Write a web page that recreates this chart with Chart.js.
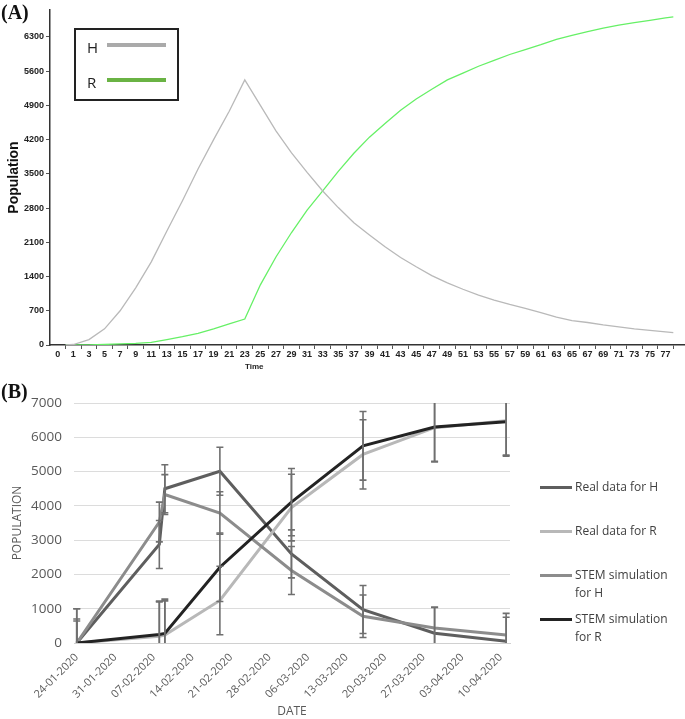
<!DOCTYPE html>
<html lang="en">
<head>
<meta charset="UTF-8">
<title>Population: model (A) and data vs STEM simulation (B)</title>
<script src="https://cdn.jsdelivr.net/npm/chart.js@4.4.0/dist/chart.umd.min.js"></script>
<style>
  body { margin: 0; padding: 0; background: #ffffff; }
  #wrap { position: relative; width: 685px; height: 719px; overflow: hidden; font-family: 'Open Sans', sans-serif; }
  .panel { position: absolute; left: 0; }
  .tag { position: absolute; left: 1px; font: bold 20px 'Liberation Serif', 'Times New Roman', serif; color: #111; }
  #legA { position: absolute; left: 74px; top: 28px; width: 101px; height: 69px; border: 2px solid #222; }
  #legA .row { position: absolute; left: 11px; font-size: 15px; color: #222; line-height: 15px; }
  #legA .bar { position: absolute; left: 31px; width: 59px; height: 4px; }
  #timeLbl { position: absolute; left: 245px; top: 362px; font: bold 8px Arial, sans-serif; color: #222; }
  #legB { position: absolute; left: 540px; top: 0; font-size: 12px; color: #404040; }
  #legB .item { position: absolute; left: 0; white-space: nowrap; line-height: 17.5px; }
  #legB .mk { position: absolute; left: 0; width: 32px; height: 3px; }
  #legB .txt { position: absolute; left: 35px; }
</style>
</head>
<body>
<div id="wrap">
  <div class="panel" style="top:0"><canvas id="chartA" width="685" height="372"></canvas></div>
  <div class="panel" style="top:370px"><canvas id="chartB" width="685" height="349"></canvas></div>
  <div class="tag" style="top:1px">(A)</div>
  <div class="tag" style="top:380px">(B)</div>
  <div id="legA">
    <div class="row" style="top:10px">H</div>
    <div class="bar" style="top:13px;background:#aaaaaa"></div>
    <div class="row" style="top:45px">R</div>
    <div class="bar" style="top:48px;background:#6ab344"></div>
  </div>
  <div id="timeLbl">Time</div>
  <div id="legB"></div>
</div>

<script>
  // ---- panel A: model output over time ----
  var timeA = [0, 1, 3, 5, 7, 9, 11, 13, 15, 17, 19, 21, 23, 25, 27, 29, 31, 33, 35, 37, 39,
               41, 43, 45, 47, 49, 51, 53, 55, 57, 59, 61, 63, 65, 67, 69, 71, 73, 75, 77, 78];
  var hValues = [0, 10, 110, 330, 700, 1170, 1700, 2330, 2950, 3600, 4200, 4780, 5420, 4900, 4380, 3930, 3530, 3150, 2810, 2500, 2250,
                 2010, 1790, 1600, 1420, 1270, 1140, 1020, 920, 830, 750, 660, 570, 500, 460, 410, 370, 330, 300, 270, 255];
  var rValues = [0, 0, 0, 10, 25, 35, 55, 110, 170, 240, 330, 430, 530, 1230, 1800, 2300, 2760, 3150, 3550, 3920, 4250,
                 4530, 4800, 5030, 5230, 5420, 5560, 5700, 5820, 5940, 6040, 6140, 6250, 6330, 6410, 6480, 6540, 6590, 6640, 6690, 6710];
  var popTicksA = [0, 700, 1400, 2100, 2800, 3500, 4200, 4900, 5600, 6300];

  // ---- panel B: real data vs STEM simulation ----
  var dateDays = [0, 7, 14, 21, 28, 35, 42, 49, 56, 63, 70, 77];
  var dateLabels = ['24-01-2020', '31-01-2020', '07-02-2020', '14-02-2020', '21-02-2020', '28-02-2020',
                    '06-03-2020', '13-03-2020', '20-03-2020', '27-03-2020', '03-04-2020', '10-04-2020'];
  var obsDays = [0, 15, 16, 26, 39, 52, 65, 78];
  var realH = [0, 2875, 4500, 5010, 2600, 975, 283, 49];
  var realR = [0, 200, 230, 1240, 3950, 5500, 6280, 6480];
  var stemH = [0, 3530, 4330, 3790, 2115, 780, 440, 234];
  var stemR = [0, 250, 280, 2210, 4110, 5750, 6300, 6450];
  var errRealH = [700, 700, 700, 700, 700, 700, 760, 700];
  var errRealR = [1000, 1000, 1000, 1000, 970, 1010, 1000, 1000];
  var errStemH = [640, 580, 580, 620, 700, 620, 600, 630];
  var errStemR = [1000, 970, 1000, 1000, 980, 1000, 1000, 1000];

  function pts(xs, ys) {
    return xs.map(function (x, i) { return { x: x, y: ys[i] }; });
  }

  // ---------- chart A ----------
  var tickPosA = [-1];
  for (var t = 0; t <= 78; t++) tickPosA.push(t);

  var chartA = new Chart(document.getElementById('chartA').getContext('2d'), {
    type: 'line',
    data: {
      datasets: [
        { label: 'H', data: pts(timeA, hValues), borderColor: '#b9b9b9', borderWidth: 1.3, pointRadius: 0, tension: 0 },
        { label: 'R', data: pts(timeA, rValues), borderColor: '#66f066', borderWidth: 1.3, pointRadius: 0, tension: 0 }
      ]
    },
    options: {
      responsive: false,
      animation: false,
      layout: { padding: { top: 10, right: 0, left: 0, bottom: 0 } },
      plugins: { legend: { display: false }, tooltip: { enabled: false } },
      scales: {
        x: {
          type: 'linear', min: -2, max: 79.5,
          afterBuildTicks: function (axis) { axis.ticks = tickPosA.map(function (v) { return { value: v }; }); },
          afterFit: function (scale) { scale.height = 27; },
          border: { color: '#333333', width: 1.5 },
          grid: {
            drawOnChartArea: false, tickLength: 4,
            tickColor: function (ctx) { return (ctx.tick && ctx.tick.value >= 0 && ctx.tick.value % 2 === 0) ? '#555555' : 'rgba(0,0,0,0)'; }
          },
          ticks: {
            autoSkip: false, maxRotation: 0, minRotation: 0, padding: 0,
            color: '#222222', font: { family: 'Arial', size: 9, weight: 'bold' },
            callback: function (v) { if (v === -1) return '0'; return (v % 2 === 1) ? String(v) : ''; }
          }
        },
        y: {
          min: 0, max: 6850,
          afterBuildTicks: function (axis) { axis.ticks = popTicksA.map(function (v) { return { value: v }; }); },
          afterFit: function (scale) { scale.width = 50; },
          border: { color: '#333333', width: 1.5 },
          grid: { drawOnChartArea: false, tickLength: 4, tickColor: '#555555' },
          ticks: { padding: 2, color: '#222222', font: { family: 'Arial', size: 9, weight: 'bold' },
                   callback: function (v) { return String(v); } },
          title: { display: true, text: 'Population', color: '#111111', padding: { top: 6, bottom: 0 },
                   font: { family: 'Arial', size: 14, weight: 'bold' } }
        }
      }
    }
  });

  // ---------- chart B ----------
  var errorBars = {
    id: 'errorBars',
    afterDatasetsDraw: function (chart) {
      var ctx = chart.ctx, area = chart.chartArea;
      var xs = chart.scales.x, ys = chart.scales.y;
      ctx.save();
      ctx.beginPath();
      ctx.rect(area.left - 6, area.top, area.right - area.left + 12, area.bottom - area.top);
      ctx.clip();
      ctx.strokeStyle = '#6f6f6f';
      ctx.lineWidth = 1.6;
      chart.data.datasets.forEach(function (ds) {
        if (!ds.errors) return;
        ds.data.forEach(function (p, i) {
          var e = ds.errors[i];
          var px = xs.getPixelForValue(p.x);
          var hi = ys.getPixelForValue(p.y + e);
          var lo = ys.getPixelForValue(p.y - e);
          ctx.beginPath();
          ctx.moveTo(px, hi); ctx.lineTo(px, lo);
          ctx.moveTo(px - 3.5, hi); ctx.lineTo(px + 3.5, hi);
          ctx.moveTo(px - 3.5, lo); ctx.lineTo(px + 3.5, lo);
          ctx.stroke();
        });
      });
      ctx.restore();
    }
  };

  var seriesB = [
    { label: 'Real data for H', data: pts(obsDays, realH), errors: errRealH, color: '#5e5e5e', order: 4 },
    { label: 'Real data for R', data: pts(obsDays, realR), errors: errRealR, color: '#b8b8b8', order: 3 },
    { label: 'STEM simulation for H', data: pts(obsDays, stemH), errors: errStemH, color: '#8c8c8c', order: 2 },
    { label: 'STEM simulation for R', data: pts(obsDays, stemR), errors: errStemR, color: '#232323', order: 1 }
  ];

  var chartB = new Chart(document.getElementById('chartB').getContext('2d'), {
    type: 'line',
    data: {
      datasets: seriesB.map(function (s) {
        return { label: s.label, data: s.data, errors: s.errors, order: s.order,
                 borderColor: s.color, borderWidth: 3, pointRadius: 0, tension: 0 };
      })
    },
    options: {
      responsive: false,
      animation: false,
      layout: { padding: { top: 33, right: 175, left: 0, bottom: 0 } },
      plugins: { legend: { display: false }, tooltip: { enabled: false } },
      scales: {
        x: {
          type: 'linear', min: -0.5, max: 78.7,
          afterBuildTicks: function (axis) { axis.ticks = dateDays.map(function (v) { return { value: v }; }); },
          afterFit: function (scale) { scale.height = 76; },
          border: { color: '#d0d0d0', width: 1 },
          grid: { drawOnChartArea: false, drawTicks: false },
          ticks: {
            autoSkip: false, maxRotation: 45, minRotation: 45, padding: 8,
            color: '#595959', font: { family: 'Open Sans', size: 11 },
            callback: function (v) { var k = dateDays.indexOf(v); return k >= 0 ? dateLabels[k] : ''; }
          },
          title: { display: true, text: 'DATE', color: '#595959', padding: { top: 0, bottom: 0 },
                   font: { family: 'Open Sans', size: 12 } }
        },
        y: {
          min: 0, max: 7000,
          afterFit: function (scale) { scale.width = 74; },
          border: { display: false },
          grid: { color: '#dcdcdc', lineWidth: 1, drawTicks: false },
          ticks: { stepSize: 1000, padding: 12, color: '#595959', font: { family: 'Open Sans', size: 13.5 },
                   callback: function (v) { return String(v); } },
          title: { display: true, text: 'POPULATION', color: '#595959', padding: { top: 10, bottom: 0 },
                   font: { family: 'Open Sans', size: 12 } }
        }
      }
    },
    plugins: [errorBars]
  });

  // legend for B, beside the plot
  var legRows = [
    { top: 478, lines: ['Real data for H'] },
    { top: 522, lines: ['Real data for R'] },
    { top: 566, lines: ['STEM simulation', 'for H'] },
    { top: 610, lines: ['STEM simulation', 'for R'] }
  ];
  var legB = document.getElementById('legB');
  legRows.forEach(function (r, i) {
    var item = document.createElement('div');
    item.className = 'item';
    item.style.top = r.top + 'px';
    var mk = document.createElement('div');
    mk.className = 'mk';
    mk.style.top = '8px';
    mk.style.background = seriesB[i].color;
    var txt = document.createElement('div');
    txt.className = 'txt';
    txt.innerHTML = r.lines.join('<br>');
    item.appendChild(mk);
    item.appendChild(txt);
    legB.appendChild(item);
  });
</script>
</body>
</html>
